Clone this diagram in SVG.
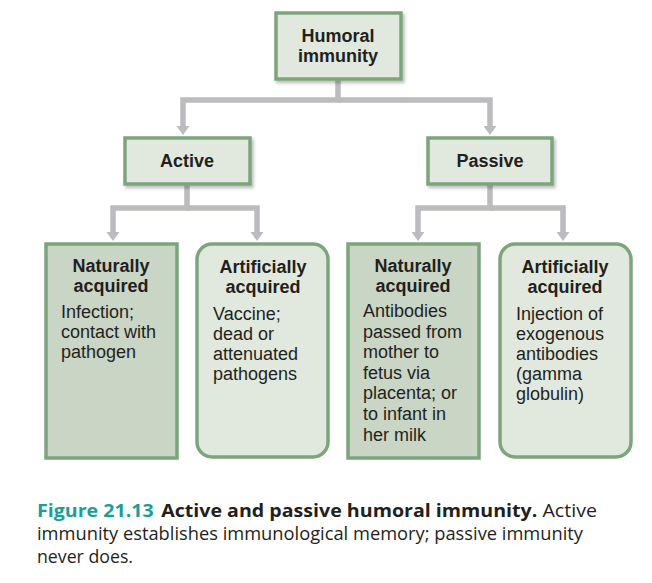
<svg xmlns="http://www.w3.org/2000/svg" width="652" height="583" viewBox="0 0 652 583">
<defs>
<style>
.box{stroke:#7da57c;stroke-width:3.5}
.light{fill:#e1e9de}
.dark{fill:#c9d5c5}
.conn{fill:none;stroke:#bcbcc0;stroke-width:5.5;stroke-linejoin:miter}
.h{font-family:"Liberation Sans",Arial,sans-serif;font-weight:bold;font-size:18px;fill:#231f20;text-anchor:middle}
.b{font-family:"Liberation Sans",Arial,sans-serif;font-size:18px;fill:#231f20}
.cap{font-family:"Open Sans","Noto Sans",sans-serif;font-size:18.5px;fill:#231f20}
</style>
<filter id="sh" x="-10%" y="-10%" width="130%" height="130%">
<feDropShadow dx="2" dy="2.5" stdDeviation="1.5" flood-color="#000" flood-opacity="0.25"/>
</filter>
<marker id="ah" markerUnits="userSpaceOnUse" viewBox="0 0 9 13" markerWidth="9" markerHeight="13" refX="1" refY="6.5" orient="auto">
<path d="M0,0 L9,6.5 L0,13 z" fill="#bcbcc0"/>
</marker>
</defs>

<g id="connectors">
<path class="conn" d="M338,80 V100 H183 V127" marker-end="url(#ah)"/>
<path class="conn" d="M338,100 H490 V127" marker-end="url(#ah)"/>
<path class="conn" d="M187,185 V208 H113 V233" marker-end="url(#ah)"/>
<path class="conn" d="M187,208 H257 V233" marker-end="url(#ah)"/>
<path class="conn" d="M490,185 V208 H418 V233" marker-end="url(#ah)"/>
<path class="conn" d="M490,208 H563 V233" marker-end="url(#ah)"/>
</g>

<g id="humoral">
<rect class="box light" x="276" y="13" width="125" height="66" filter="url(#sh)"/>
<text class="h" x="338" y="42">Humoral</text>
<text class="h" x="338" y="62">immunity</text>
</g>

<g id="active">
<rect class="box light" x="125" y="138" width="125" height="46" filter="url(#sh)"/>
<text class="h" x="187" y="167">Active</text>
</g>

<g id="passive">
<rect class="box light" x="428" y="138" width="124" height="46" filter="url(#sh)"/>
<text class="h" x="490" y="167">Passive</text>
</g>

<g id="active-natural">
<rect class="box dark" x="46" y="244" width="131" height="214"/>
<text class="h" x="111" y="272">Naturally</text>
<text class="h" x="111" y="292">acquired</text>
<text class="b" x="61" y="318">Infection;</text>
<text class="b" x="61" y="338">contact with</text>
<text class="b" x="61" y="358">pathogen</text>
</g>

<g id="active-artificial">
<rect class="box light" x="197" y="244" width="131" height="213" rx="15"/>
<text class="h" x="263" y="273">Artificially</text>
<text class="h" x="263" y="293">acquired</text>
<text class="b" x="213" y="320">Vaccine;</text>
<text class="b" x="213" y="340">dead or</text>
<text class="b" x="213" y="360">attenuated</text>
<text class="b" x="213" y="380">pathogens</text>
</g>

<g id="passive-natural">
<rect class="box dark" x="348" y="244" width="131" height="214"/>
<text class="h" x="413" y="272">Naturally</text>
<text class="h" x="413" y="292">acquired</text>
<text class="b" x="363" y="317">Antibodies</text>
<text class="b" x="363" y="337.6">passed from</text>
<text class="b" x="363" y="358.2">mother to</text>
<text class="b" x="363" y="378.8">fetus via</text>
<text class="b" x="363" y="399.4">placenta; or</text>
<text class="b" x="363" y="420">to infant in</text>
<text class="b" x="363" y="440.6">her milk</text>
</g>

<g id="passive-artificial">
<rect class="box light" x="500" y="244" width="131" height="213" rx="15"/>
<text class="h" x="565" y="273">Artificially</text>
<text class="h" x="565" y="293">acquired</text>
<text class="b" x="516" y="320">Injection of</text>
<text class="b" x="516" y="340">exogenous</text>
<text class="b" x="516" y="360">antibodies</text>
<text class="b" x="516" y="380">(gamma</text>
<text class="b" x="516" y="400">globulin)</text>
</g>

<g id="caption">
<text class="cap" x="37" y="517" textLength="560" lengthAdjust="spacingAndGlyphs"><tspan font-weight="bold" fill="#1a9e9b">Figure 21.13</tspan><tspan font-weight="bold" dx="7">Active and passive humoral immunity.</tspan> Active</text>
<text class="cap" x="37" y="540" textLength="546" lengthAdjust="spacingAndGlyphs">immunity establishes immunological memory; passive immunity</text>
<text class="cap" x="37" y="563" textLength="96" lengthAdjust="spacingAndGlyphs">never does.</text>
</g>
</svg>
